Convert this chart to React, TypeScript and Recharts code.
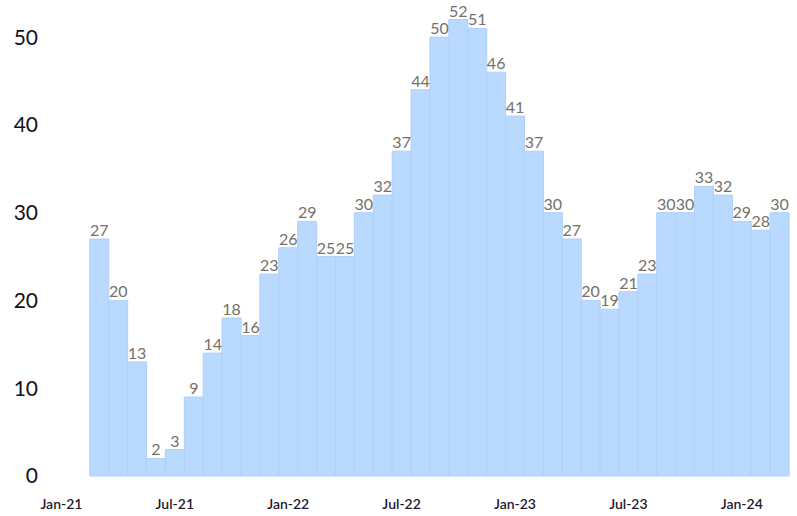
import { BarChart, Bar, XAxis, YAxis, LabelList } from 'recharts';

// months from Jan-21 to Mar-24; first two months have no data
const months = [
    'Jan-21', 'Feb-21', 'Mar-21', 'Apr-21', 'May-21', 'Jun-21', 'Jul-21', 'Aug-21', 'Sep-21', 'Oct-21', 'Nov-21', 'Dec-21',
    'Jan-22', 'Feb-22', 'Mar-22', 'Apr-22', 'May-22', 'Jun-22', 'Jul-22', 'Aug-22', 'Sep-22', 'Oct-22', 'Nov-22', 'Dec-22',
    'Jan-23', 'Feb-23', 'Mar-23', 'Apr-23', 'May-23', 'Jun-23', 'Jul-23', 'Aug-23', 'Sep-23', 'Oct-23', 'Nov-23', 'Dec-23',
    'Jan-24', 'Feb-24', 'Mar-24',
];

const counts: (number | null)[] = [
    null, null, 27, 20, 13, 2, 3, 9, 14, 18, 16, 23,
    26, 29, 25, 25, 30, 32, 37, 44, 50, 52, 51, 46,
    41, 37, 30, 27, 20, 19, 21, 23, 30, 30, 33, 32,
    29, 28, 30,
];

const xTicks = ['Jan-21', 'Jul-21', 'Jan-22', 'Jul-22', 'Jan-23', 'Jul-23', 'Jan-24'];
const yTicks = [0, 10, 20, 30, 40, 50];

const data = months.map((m, i) => ({ month: m, value: counts[i] }));

const FONT = '"Gill Sans", "Gill Sans MT", Lato, "Open Sans", sans-serif';

export default function App() {
    return (
        <div style={{ position: 'absolute', left: 0, top: 0, width: 797, height: 516, background: '#fff' }}>
            <BarChart
                width={797}
                height={516}
                data={data}
                margin={{ top: 2, right: 8, bottom: 0, left: 0 }}
                barCategoryGap={0}
                style={{ fontFamily: FONT }}
            >
                <XAxis
                    dataKey="month"
                    ticks={xTicks}
                    interval={0}
                    height={40}
                    axisLine={false}
                    tickLine={false}
                    tickSize={0}
                    tickMargin={23}
                    tick={{ fontSize: 14, fill: '#1f1a2e', fontWeight: 600, fontFamily: FONT }}
                />
                <YAxis
                    domain={[0, 54]}
                    ticks={yTicks}
                    width={52}
                    axisLine={false}
                    tickLine={false}
                    tickSize={0}
                    tickMargin={14}
                    tick={{ fontSize: 21, fill: '#141022', fontFamily: FONT }}
                />
                <Bar dataKey="value" fill="#b9d9fe" stroke="#aed0fa" strokeWidth={1} isAnimationActive={false}>
                    <LabelList
                        dataKey="value"
                        position="top"
                        offset={3}
                        style={{ fontSize: 16, fill: '#75706a', fontFamily: FONT }}
                    />
                </Bar>
            </BarChart>
        </div>
    );
}
